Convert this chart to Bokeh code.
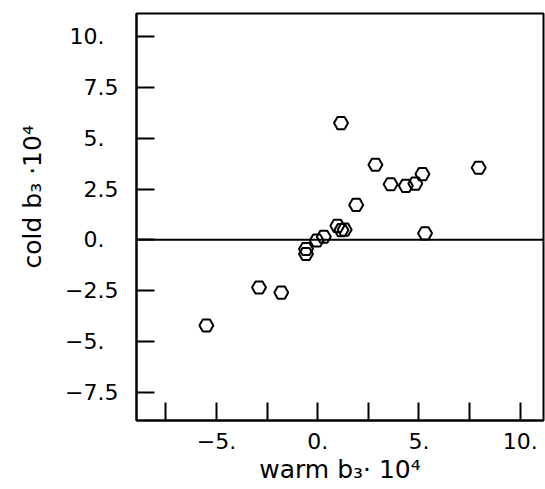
from bokeh.plotting import figure
from bokeh.models import FixedTicker, Span, Range1d, Title
from bokeh.embed import file_html
from bokeh.resources import INLINE

warm = [-5.5, -2.9, -1.8, -0.58, -0.58, -0.05, 0.3, 0.97, 1.17, 1.33, 1.15, 1.9, 2.85, 3.6, 4.35, 4.82, 5.17, 5.3, 7.95]
cold = [-4.22, -2.35, -2.6, -0.45, -0.7, -0.03, 0.15, 0.69, 0.48, 0.5, 5.75, 1.72, 3.7, 2.74, 2.66, 2.77, 3.24, 0.32, 3.55]

FS = "\u2007"  # figure space keeps the decimal points aligned
x_ticks = [-7.5, -5, -2.5, 0, 2.5, 5, 7.5, 10]
x_tick_labels = ["", "\u22125.", "", "0.", "", "5.", "", "10."]
y_ticks = [-7.5, -5, -2.5, 0, 2.5, 5, 7.5, 10]
y_tick_labels = ["\u22127.5", "\u22125." + FS, "\u22122.5", "0." + FS, "2.5", "5." + FS, "7.5", "10." + FS]

FONT = "DejaVu Sans"

p = figure(output_backend="svg", toolbar_location=None,
           frame_width=407, frame_height=407,
           min_border_left=136, min_border_right=2, min_border_top=13, min_border_bottom=69,
           x_range=Range1d(-8.95, 11.15), y_range=Range1d(-8.9, 11.15))
p.background_fill_color = "white"
p.border_fill_color = "white"
p.outline_line_color = "black"
p.outline_line_width = 2
p.xgrid.visible = False
p.ygrid.visible = False

for ax, ticks, labels in ((p.xaxis[0], x_ticks, x_tick_labels), (p.yaxis[0], y_ticks, y_tick_labels)):
    ax.ticker = FixedTicker(ticks=ticks)
    ax.major_label_overrides = {t: l for t, l in zip(ticks, labels)}
    ax.major_tick_in = 18
    ax.major_tick_out = 0
    ax.minor_tick_in = 0
    ax.minor_tick_out = 0
    ax.major_tick_line_width = 2
    ax.major_tick_line_color = "black"
    ax.axis_line_width = 2
    ax.axis_line_color = "black"
    ax.major_label_text_font = FONT
    ax.major_label_text_font_size = "22px"
    ax.major_label_text_color = "black"
    ax.axis_label_text_font = FONT
    ax.axis_label_text_font_size = "25px"
    ax.axis_label_text_font_style = "normal"
    ax.axis_label_text_color = "black"

p.xaxis.axis_label = "warm b\u2083\u00b7 10\u2074"
p.xaxis.major_label_standoff = 12
p.yaxis.major_label_standoff = 18
p.xaxis.axis_label_standoff = 3

p.add_layout(Title(text="cold b\u2083 \u00b710\u2074", align="left", offset=152, standoff=31,
                   text_font=FONT, text_font_size="25px", text_font_style="normal",
                   text_color="black"), "left")

p.add_layout(Span(location=0, dimension="width", line_color="black", line_width=2))

p.scatter(warm, cold, marker="hex", size=14, fill_color=None, line_color="black", line_width=2)

open("out.html", "w").write(file_html(p, INLINE))
